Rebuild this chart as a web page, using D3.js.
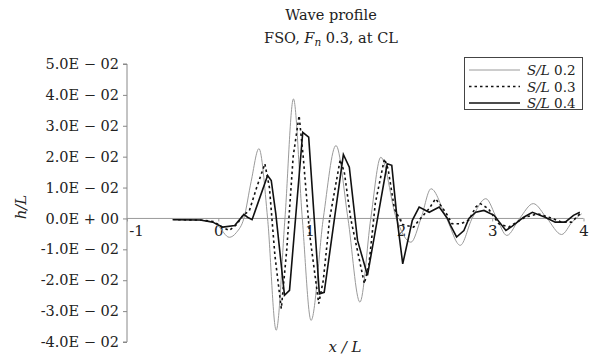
<!DOCTYPE html>
<html><head><meta charset="utf-8">
<script src="https://cdn.jsdelivr.net/npm/d3@7"></script>
<style>
body{margin:0;background:#fff;}
svg{display:block;}
text{font-family:"DejaVu Serif",serif;fill:#222;}
</style></head>
<body><svg id="c" width="593" height="359"></svg>
<script>
const xTicks = [-1, 0, 1, 2, 3, 4];
const xTickLabels = ["-1", "0", "1", "2", "3", "4"];
const yTicks = [0.05, 0.04, 0.03, 0.02, 0.01, 0, -0.01, -0.02, -0.03, -0.04];
const yTickLabels = ["5.0E − 02","4.0E − 02","3.0E − 02","2.0E − 02","1.0E − 02","0.0E + 00","-1.0E − 02","-2.0E − 02","-3.0E − 02","-4.0E − 02"];
const seriesNames = ["0.2", "0.3", "0.4"];

const x02 = [-0.5,-0.3,-0.1,0.0,0.12,0.2,0.28,0.36,0.445,0.54,0.634,0.73,0.823,0.92,1.016,1.15,1.289,1.42,1.551,1.67,1.78,1.95,2.11,2.22,2.33,2.5,2.65,2.78,2.93,3.05,3.16,3.3,3.45,3.6,3.76,3.88,3.98];
const h02 = [-0.0003,-0.0004,-0.0008,-0.0025,-0.0061,-0.0045,0.0,0.012,0.0226,0.0,-0.0362,0.0,0.0387,0.0,-0.033,0.0,0.0236,0.0,-0.0271,0.0,0.0198,0.0,-0.0077,0.0,0.0096,0.0,-0.0087,0.0,0.0064,0.0,-0.0055,0.0,0.0048,0.0,-0.0052,-0.001,0.0015];

const x03 = [-0.5,-0.2,-0.05,0.05,0.12,0.2,0.27,0.34,0.42,0.51,0.56,0.62,0.69,0.75,0.82,0.885,0.93,1.0,1.1,1.15,1.22,1.335,1.38,1.45,1.6,1.65,1.72,1.82,1.86,1.93,2.02,2.14,2.2,2.31,2.38,2.49,2.56,2.66,2.745,2.82,2.87,2.96,3.07,3.18,3.36,3.5,3.62,3.76,3.87,3.96];
const h03 = [-0.0004,-0.0005,-0.001,-0.003,-0.0039,-0.002,0.001,0.0025,0.01,0.0177,0.01,-0.012,-0.0292,-0.01,0.02,0.0333,0.02,-0.005,-0.0276,-0.02,0.0,0.019,0.015,0.0,-0.0211,-0.015,0.005,0.0193,0.016,0.003,-0.002,-0.0028,-0.0005,0.0032,0.0064,0.002,-0.0017,-0.0017,-0.0005,0.0037,0.0048,0.0031,-0.0017,-0.0028,0.0004,0.0015,0.0004,-0.0012,-0.0012,0.0015];

const x04 = [-0.476,-0.2,-0.06,0.05,0.18,0.28,0.32,0.37,0.54,0.58,0.63,0.725,0.78,0.925,0.99,1.107,1.16,1.37,1.435,1.525,1.634,1.85,1.9,1.96,2.02,2.125,2.2,2.31,2.42,2.51,2.545,2.61,2.69,2.745,2.82,2.91,3.02,3.15,3.22,3.345,3.44,3.58,3.69,3.8,3.89,3.96];
const h04 = [-0.0004,-0.0005,-0.0012,-0.0028,-0.0023,0.0013,0.0004,-0.0004,0.0139,0.0123,0.0015,-0.0249,-0.0233,0.0279,0.0263,-0.0244,-0.0239,0.0207,0.0166,-0.0071,-0.0184,0.0177,0.0172,-0.0006,-0.0147,-0.0006,0.0037,0.002,0.0037,0.0,-0.0023,-0.006,-0.0039,0.0,0.002,0.0026,0.001,-0.0039,-0.0025,0.0004,0.002,0.0004,-0.0012,-0.0012,0.001,0.002];

const svg = d3.select("#c");
const x = d3.scaleLinear().domain([-1, 4]).range([127, 583.5]);
const y = d3.scaleLinear().domain([-0.04, 0.05]).range([342, 64]);

// Title
const t = svg.append("text").attr("x", 331).attr("y", 20).attr("text-anchor", "middle").style("font-size", "14.5px");
t.text("Wave profile");
const t2 = svg.append("text").attr("x", 331).attr("y", 43).attr("text-anchor", "middle").style("font-size", "14.5px");
t2.append("tspan").text("FSO, ");
t2.append("tspan").style("font-style", "italic").text("F");
t2.append("tspan").style("font-style", "italic").style("font-size", "10.5px").attr("dy", 3).text("n");
t2.append("tspan").attr("dy", -3).text(" 0.3, at CL");

// Y axis
const yAxis = d3.axisLeft(y).tickValues(yTicks).tickSize(4).tickPadding(4)
  .tickFormat((d, i) => yTickLabels[i]);
const gy = svg.append("g").attr("transform", "translate(127,0)").call(yAxis);
gy.select(".domain").attr("stroke", "#888").attr("d", `M-4,${y(0.05)}H0V${y(-0.04)}H-4`);
gy.selectAll(".tick line").attr("stroke", "#888");
gy.selectAll(".tick text").style("font-size", "14.5px").style("font-family", "DejaVu Serif").attr("fill", "#222");

// X axis at zero
const xAxis = d3.axisBottom(x).tickValues(xTicks).tickSize(3).tickPadding(4).tickFormat((d, i) => xTickLabels[i]);
const gx = svg.append("g").attr("transform", `translate(0,${y(0)})`).call(xAxis);
gx.select(".domain").attr("stroke", "#999").attr("d", `M${x(-1)},0H${x(4)}`);
gx.selectAll(".tick line").attr("stroke", "#999");
gx.selectAll(".tick text").style("font-size", "15px").style("font-family", "DejaVu Serif").attr("fill", "#222")
  .attr("dx", d => d === -1 ? 9 : 0);

// Axis labels
const xl = svg.append("text").attr("x", 345).attr("y", 352).attr("text-anchor", "middle").style("font-size", "15px").style("font-style", "italic");
xl.text("x / L");
svg.append("text").attr("transform", "translate(26,207) rotate(-90)").attr("text-anchor", "middle")
  .style("font-size", "15px").style("font-style", "italic").text("h/L");

// Lines
const series = [
  {name: seriesNames[0], xs: x02, hs: h02, color: "#9a9a9a", width: 1, dash: null, curve: d3.curveMonotoneX},
  {name: seriesNames[1], xs: x03, hs: h03, color: "#111", width: 1.6, dash: "2.5,3", curve: d3.curveLinear},
  {name: seriesNames[2], xs: x04, hs: h04, color: "#111", width: 1.6, dash: null, curve: d3.curveLinear}
];
series.forEach(s => {
  const pts = s.xs.map((v, i) => [v, s.hs[i]]);
  const line = d3.line().x(d => x(d[0])).y(d => y(d[1])).curve(s.curve);
  svg.append("path").attr("d", line(pts)).attr("fill", "none").attr("stroke", s.color)
    .attr("stroke-width", s.width).attr("stroke-dasharray", s.dash);
});

// Legend
const lg = svg.append("g");
lg.append("rect").attr("x", 464.5).attr("y", 57.5).attr("width", 118).attr("height", 52)
  .attr("fill", "#fff").attr("stroke", "#444").attr("stroke-width", 1);
series.forEach((s, i) => {
  const yy = 70 + i * 16.5;
  lg.append("line").attr("x1", 469).attr("x2", 520).attr("y1", yy).attr("y2", yy)
    .attr("stroke", s.color).attr("stroke-width", s.width).attr("stroke-dasharray", s.dash);
  const tx = lg.append("text").attr("x", 527).attr("y", yy + 5).style("font-size", "13.5px");
  tx.append("tspan").style("font-style", "italic").text("S/L");
  tx.append("tspan").text(" " + s.name);
});
</script></body></html>
